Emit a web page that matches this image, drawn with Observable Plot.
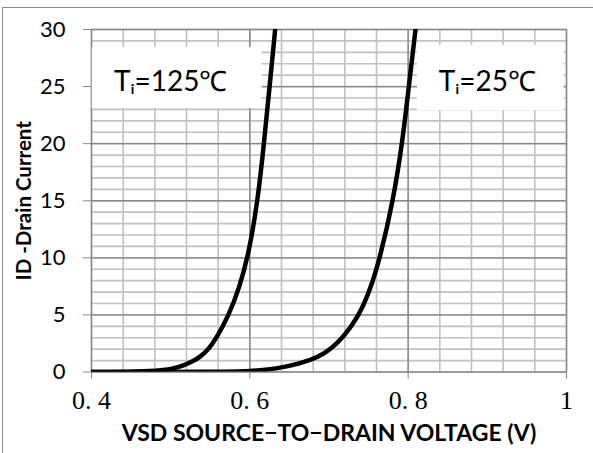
<!DOCTYPE html>
<html>
<head>
<meta charset="utf-8">
<script src="https://cdn.jsdelivr.net/npm/d3@7"></script>
<script src="https://cdn.jsdelivr.net/npm/@observablehq/plot@0.6"></script>
<style>
  html, body { margin: 0; padding: 0; background: white; }
  #wrap { position: relative; width: 593px; height: 453px; overflow: hidden; }
  #frame { position: absolute; left: 2px; top: 7px; right: -10px; bottom: -10px;
           border-top: 1.5px solid #8c8c8c; border-left: 1.5px solid #8c8c8c; pointer-events: none; }
</style>
</head>
<body>
<div id="wrap"><div id="frame"></div></div>
<script>
// Series: Tj = 125 °C
const v125 = [0.40, 0.46, 0.49, 0.505, 0.516, 0.527, 0.537, 0.548, 0.558, 0.573, 0.587, 0.599, 0.610, 0.6178, 0.625, 0.632];
const i125 = [0, 0.04, 0.15, 0.33, 0.57, 0.9, 1.3, 2.0, 3.0, 4.9, 7.4, 10.5, 15.0, 20.0, 25.0, 30.0];
// Series: Tj = 25 °C
const v25 = [0.40, 0.56, 0.60, 0.634, 0.663, 0.688, 0.703, 0.718, 0.737, 0.752, 0.7645, 0.781, 0.7925, 0.8008, 0.8093];
const i25 = [0, 0.01, 0.06, 0.28, 0.72, 1.35, 2.05, 3.05, 4.8, 7.2, 10.0, 15.0, 20.0, 25.0, 30.0];

const seriesNames = ["Tᵢ=125℃", "Tᵢ=25℃"];
const labelX = [0.5, 0.9];
const labelY = [25.4, 25.4];
const boxX1 = [0.401, 0.8118];
const boxX2 = [0.6154, 0.997];
const boxY1 = [23.07, 22.9];
const boxY2 = [28.4, 28.6];

const xTicks = [0.4, 0.6, 0.8, 1.0];
const xTickLabels = ["0. 4", "0. 6", "0. 8", "1"];
const yTicks = [0, 5, 10, 15, 20, 25, 30];
const xMinor = d3.range(0, 16).map(k => 0.4 + k * 0.04);
const yMinor = d3.range(0, 31);

const xTitle = "VSD SOURCE−TO−DRAIN VOLTAGE (V)";
const yTitle = "ID -Drain Current";

const data = [
  ...v125.map((v, i) => ({series: seriesNames[0], v, id: i125[i]})),
  ...v25.map((v, i) => ({series: seriesNames[1], v, id: i25[i]}))
];
const labels = seriesNames.map((s, i) => ({text: s, x: labelX[i], y: labelY[i], x1: boxX1[i], x2: boxX2[i], y1: boxY1[i], y2: boxY2[i]}));
const xLabelMap = new Map(xTicks.map((t, i) => [t, xTickLabels[i]]));

const sans = "Lato, 'Open Sans', sans-serif";

const chart = Plot.plot({
  width: 593,
  height: 453,
  marginLeft: 91,
  marginRight: 27,
  marginTop: 29,
  marginBottom: 81.5,
  style: {background: "white", fontFamily: sans, color: "black"},
  x: {domain: [0.4, 1.0]},
  y: {domain: [0, 30]},
  marks: [
    Plot.gridX(xMinor, {stroke: "#c0c0c0", strokeOpacity: 1, strokeWidth: 1.6}),
    Plot.gridY(yMinor, {stroke: "#c0c0c0", strokeOpacity: 1, strokeWidth: 1.6}),
    Plot.gridX(xTicks, {stroke: "#878787", strokeOpacity: 1, strokeWidth: 1.4}),
    Plot.gridY(yTicks, {stroke: "#878787", strokeOpacity: 1, strokeWidth: 1.4}),
    Plot.rect(labels, {x1: "x1", x2: "x2", y1: "y1", y2: "y2", fill: "white"}),
    Plot.text(labels, {x: "x", y: "y", text: "text", fontSize: 28, fill: "black"}),
    Plot.axisY(yTicks, {tickSize: 8, tickPadding: 18, fontSize: 22, stroke: "#878787", fill: "black", label: null}),
    Plot.axisX(xTicks, {tickSize: 7, tickPadding: 12, fontSize: 26, stroke: "#878787", fill: "black", label: null,
      fontFamily: "'Liberation Serif', serif", tickFormat: d => xLabelMap.get(d)}),
    Plot.line(data, {x: "v", y: "id", z: "series", stroke: "black", strokeWidth: 4.5, curve: "basis", clip: true}),
    Plot.text([xTitle], {frameAnchor: "bottom", dy: 69, fontSize: 23, fontWeight: "bold", fill: "black"}),
    Plot.text([yTitle], {frameAnchor: "left", dx: -67, rotate: -90, textAnchor: "middle", fontSize: 20.5, fontWeight: "bold", fill: "black"})
  ]
});
document.getElementById("wrap").prepend(chart);
</script>
</body>
</html>
